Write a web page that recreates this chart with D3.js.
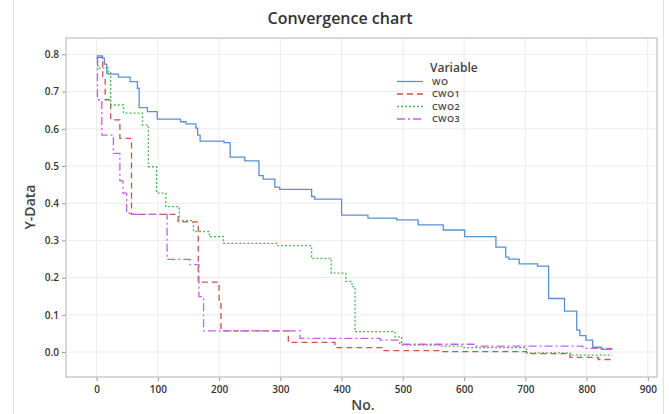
<!DOCTYPE html>
<html>
<head>
<meta charset="utf-8">
<script src="https://cdn.jsdelivr.net/npm/d3@7"></script>
<style>
  body { margin: 0; background: #fff; }
  text { font-family: "Open Sans", "Noto Sans", sans-serif; }
  .tick text { font-size: 10px; font-weight: 600; fill: #333; }
  .tick line { stroke: #999; }
</style>
</head>
<body>
<div id="chart"></div>
<script>
// step values: [No., Y-Data]
var seriesNames = ["WO", "CWO1", "CWO2", "CWO3"];

var WO = [
    [0, 0.796], [9.5, 0.790], [12.7, 0.774], [16.6, 0.749], [19, 0.747], [35.6, 0.739],
    [54.7, 0.727], [66.6, 0.709], [69.4, 0.657], [83, 0.646], [99, 0.626], [137, 0.619],
    [146, 0.613], [162, 0.602], [165, 0.583], [169, 0.567], [208, 0.563], [218, 0.524],
    [242, 0.514], [265, 0.474], [272, 0.465], [291, 0.443], [299, 0.437], [351, 0.418],
    [356, 0.411], [400, 0.368], [443, 0.360], [490, 0.355], [525, 0.342], [566, 0.328],
    [601, 0.310], [652, 0.282], [668, 0.255], [673, 0.250], [690, 0.237], [720, 0.231],
    [738, 0.144], [764, 0.110], [784, 0.059], [789, 0.044], [799, 0.032], [810, 0.013],
    [824, 0.007], [842, 0.007]
];

var CWO1 = [
    [0, 0.792], [10, 0.740], [14, 0.678], [23, 0.624], [38, 0.574], [57, 0.370],
    [133, 0.350], [166, 0.188], [200, 0.140], [203, 0.057], [313, 0.026], [389, 0.012],
    [468, 0.004], [560, 0.001], [702, -0.004], [773, -0.014], [819, -0.020], [842, -0.020]
];

var CWO2 = [
    [0, 0.790], [2, 0.763], [19, 0.754], [23, 0.664], [44, 0.642], [75, 0.610],
    [84.5, 0.498], [98, 0.427], [113, 0.391], [135, 0.353], [158, 0.324], [184, 0.310],
    [207, 0.292], [294, 0.286], [351, 0.252], [383, 0.212], [407, 0.190], [417, 0.176],
    [422, 0.055], [487, 0.041], [498, 0.019], [560, 0.016], [600, 0.012], [702, -0.002],
    [773, -0.008], [842, -0.008]
];

var CWO3 = [
    [0, 0.790], [1.3, 0.678], [8.5, 0.583], [27.4, 0.534], [38, 0.460], [43, 0.427],
    [49, 0.373], [57, 0.370], [115, 0.249], [152.6, 0.235], [167, 0.149], [174.6, 0.057],
    [332, 0.037], [463, 0.032], [495, 0.021], [620, 0.016], [794, 0.010], [842, 0.010]
];

var xTicks = [0, 100, 200, 300, 400, 500, 600, 700, 800, 900];
var yTicks = [0, 0.1, 0.2, 0.3, 0.4, 0.5, 0.6, 0.7, 0.8];

var seriesData = [WO, CWO1, CWO2, CWO3];
var colors = ["#5b8fd4", "#c9534f", "#4db84d", "#c262e6"];
var dashes = [null, "6,4", "2,2", "8,3,2,3"];

var width = 669,
    height = 414,
    margin = {top: 38, right: 12, bottom: 37, left: 66};

var svg = d3.select("#chart")
    .append("svg")
    .attr("width", width)
    .attr("height", height);

// outer graph region border
svg.append("line")
    .attr("x1", 13.5).attr("x2", 13.5).attr("y1", 0).attr("y2", height)
    .attr("stroke", "#e2e2e2");
svg.append("line")
    .attr("x1", 663.5).attr("x2", 663.5).attr("y1", 0).attr("y2", height)
    .attr("stroke", "#e2e2e2");

var xScale = d3.scaleLinear().domain([-50, 915]).range([margin.left, width - margin.right]);
var yScale = d3.scaleLinear().domain([-0.067, 0.844]).range([height - margin.bottom, margin.top]);

// grid
svg.append("g")
    .selectAll("line")
    .data(xTicks)
    .enter().append("line")
    .attr("x1", d => xScale(d)).attr("x2", d => xScale(d))
    .attr("y1", margin.top).attr("y2", height - margin.bottom)
    .attr("stroke", "#ececec");
svg.append("g")
    .selectAll("line")
    .data(yTicks)
    .enter().append("line")
    .attr("y1", d => yScale(d)).attr("y2", d => yScale(d))
    .attr("x1", margin.left).attr("x2", width - margin.right)
    .attr("stroke", "#ececec");

// axes
var xAxis = d3.axisBottom(xScale).tickValues(xTicks).tickSize(4).tickPadding(5);
var yAxis = d3.axisLeft(yScale).tickValues(yTicks).tickFormat(d3.format(".1f")).tickSize(4).tickPadding(3);

svg.append("g")
    .attr("class", "x axis")
    .attr("transform", `translate(0,${height - margin.bottom})`)
    .call(xAxis)
    .call(g => g.select(".domain").remove());

svg.append("g")
    .attr("class", "y axis")
    .attr("transform", `translate(${margin.left},0)`)
    .call(yAxis)
    .call(g => g.select(".domain").remove());

// frame
svg.append("rect")
    .attr("x", margin.left)
    .attr("y", margin.top)
    .attr("width", width - margin.left - margin.right)
    .attr("height", height - margin.top - margin.bottom)
    .attr("fill", "none")
    .attr("stroke", "#c4c4c4")
    .attr("stroke-width", 1.3);

// step lines
var line = d3.line()
    .x(d => xScale(d[0]))
    .y(d => yScale(d[1]))
    .curve(d3.curveStepAfter);

svg.append("g")
    .selectAll("path")
    .data(seriesData)
    .enter().append("path")
    .attr("d", d => line(d))
    .attr("fill", "none")
    .attr("stroke", (d, i) => colors[i])
    .attr("stroke-width", 1.3)
    .attr("stroke-dasharray", (d, i) => dashes[i]);

// title and axis labels
svg.append("text")
    .attr("x", 340).attr("y", 24)
    .attr("text-anchor", "middle")
    .style("font-size", "16px").style("font-weight", 600).style("fill", "#333")
    .text("Convergence chart");

svg.append("text")
    .attr("transform", "translate(35,207) rotate(-90)")
    .attr("text-anchor", "middle")
    .style("font-size", "14px").style("font-weight", 600).style("fill", "#444")
    .text("Y-Data");

svg.append("text")
    .attr("x", 363).attr("y", 410)
    .attr("text-anchor", "middle")
    .style("font-size", "14px").style("font-weight", 600).style("fill", "#444")
    .text("No.");

// legend
var legend = svg.append("g").attr("transform", "translate(397,0)");
legend.append("text")
    .attr("x", 33).attr("y", 71.5)
    .style("font-size", "12px").style("font-weight", 600).style("fill", "#444")
    .text("Variable");

var rows = legend.selectAll(".row")
    .data(seriesNames)
    .enter().append("g")
    .attr("class", "row")
    .attr("transform", (d, i) => `translate(0,${81.5 + i * 12.5})`);

rows.append("line")
    .attr("x1", 0).attr("x2", 26)
    .attr("stroke", (d, i) => colors[i])
    .attr("stroke-width", 1.3)
    .attr("stroke-dasharray", (d, i) => dashes[i]);

rows.append("text")
    .attr("x", 35).attr("y", 3.3)
    .style("font-size", "9px").style("font-weight", 600).style("fill", "#444")
    .style("letter-spacing", "0.4px")
    .text(d => d);
</script>
</body>
</html>
